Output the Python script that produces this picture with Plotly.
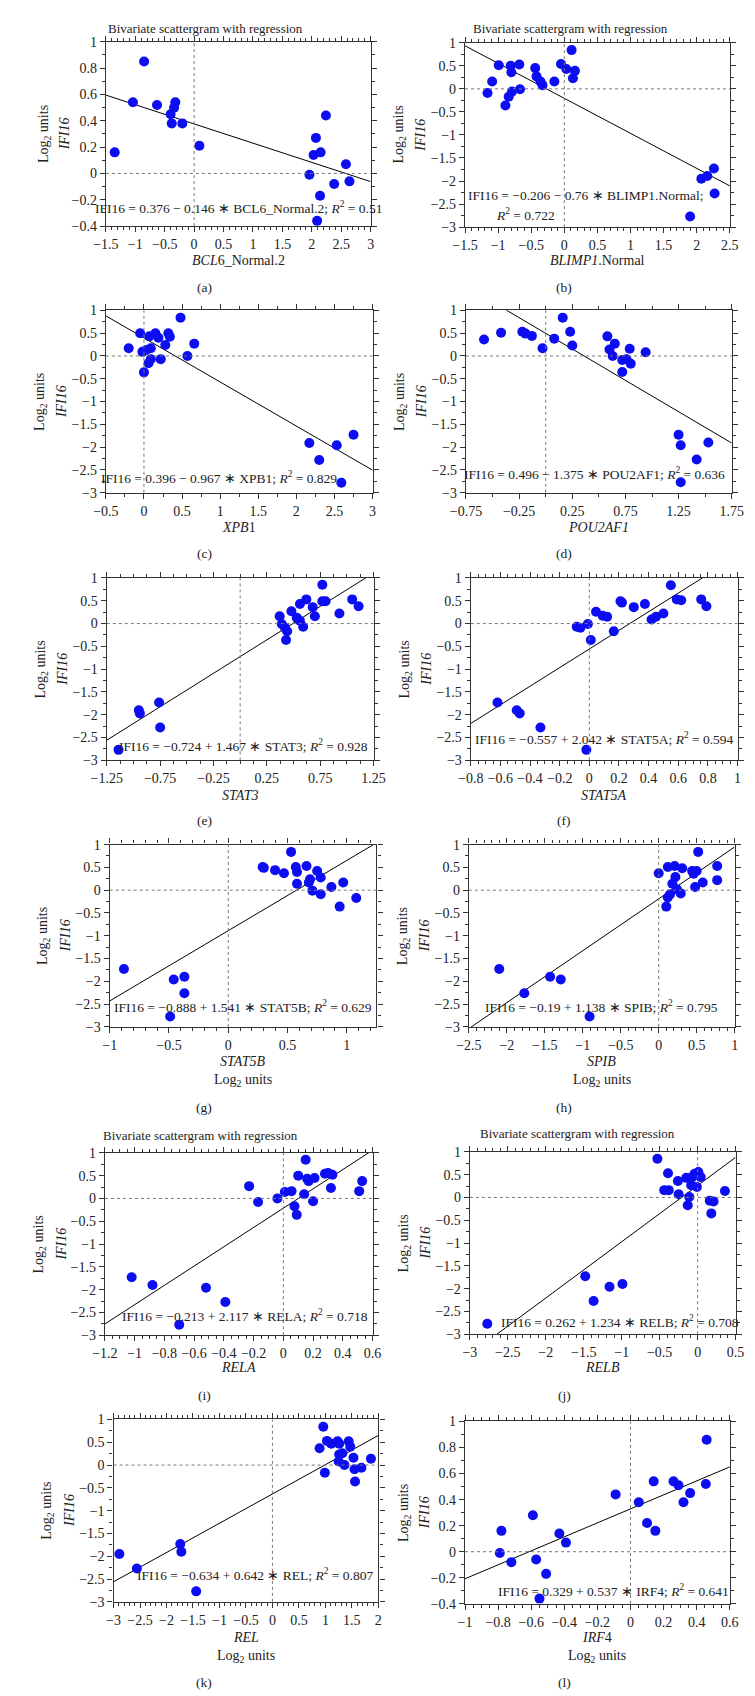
import plotly.graph_objects as go

W, H = 755, 1696
FONT = "Liberation Serif, Times New Roman, Times, serif"
BLUE = "#0d0df2"
AXC = "#333333"

# ---------------- data ----------------
a_x = [-1.35,-1.04,-0.85,-0.63,-0.40,-0.38,-0.34,-0.32,-0.20,0.09,1.96,2.03,2.07,2.15,2.24,2.09,2.14,2.38,2.58,2.64]
a_y = [0.16,0.54,0.85,0.52,0.45,0.38,0.50,0.54,0.38,0.21,-0.01,0.14,0.27,0.16,0.44,-0.36,-0.17,-0.08,0.07,-0.06]

b_x = [-1.16,-1.09,-0.99,-0.89,-0.84,-0.81,-0.80,-0.79,-0.68,-0.67,-0.44,-0.42,-0.36,-0.33,-0.15,-0.05,0.03,0.11,0.13,0.16,1.90,2.07,2.16,2.26,2.27]
b_y = [-0.09,0.16,0.51,-0.36,-0.17,0.50,0.36,-0.06,0.53,-0.01,0.45,0.27,0.16,0.08,0.16,0.54,0.43,0.84,0.23,0.39,-2.77,-1.95,-1.89,-1.73,-2.27]

c_x = [-0.05,0.07,0.15,0.19,0.32,0.34,0.48,0.66,-0.20,-0.02,0.03,0.09,0.28,0.57,0.06,0.09,0.22,0.0,2.17,2.30,2.53,2.75,2.59]
c_y = [0.50,0.43,0.50,0.40,0.50,0.42,0.84,0.27,0.17,0.09,0.13,0.17,0.24,0.0,-0.16,-0.07,-0.07,-0.36,-1.91,-2.28,-1.96,-1.73,-2.78]

d_x = [-0.58,-0.42,-0.22,-0.19,-0.13,-0.03,0.08,0.16,0.23,0.25,0.58,0.60,0.65,0.63,0.72,0.76,0.79,0.80,0.72,0.94,1.25,1.27,1.53,1.42,1.27]
d_y = [0.36,0.51,0.53,0.49,0.44,0.17,0.38,0.84,0.53,0.23,0.43,0.14,0.27,0.0,-0.09,-0.07,0.16,-0.17,-0.35,0.08,-1.73,-1.96,-1.90,-2.27,-2.77]

e_x = [0.37,0.48,0.56,0.62,0.68,0.70,0.77,0.77,0.80,0.93,1.05,1.11,0.39,0.42,0.44,0.43,0.53,0.56,0.59,-0.95,-0.94,-0.76,-0.75,-1.14]
e_y = [0.16,0.27,0.43,0.53,0.36,0.16,0.85,0.49,0.49,0.22,0.53,0.38,-0.01,-0.09,-0.17,-0.36,0.13,0.06,-0.07,-1.90,-1.97,-1.73,-2.28,-2.77]

f_x = [0.045,0.09,0.12,0.21,0.22,0.30,0.375,0.42,0.45,0.50,0.55,0.59,0.62,0.755,0.79,-0.085,-0.06,-0.01,0.01,0.165,-0.62,-0.49,-0.47,-0.33,-0.02]
f_y = [0.26,0.17,0.15,0.49,0.46,0.36,0.43,0.09,0.15,0.22,0.84,0.53,0.51,0.53,0.38,-0.07,-0.09,-0.01,-0.36,-0.17,-1.73,-1.90,-1.97,-2.28,-2.77]

g_x = [0.29,0.30,0.395,0.47,0.53,0.57,0.58,0.66,0.75,0.78,0.58,0.68,0.69,0.87,0.97,0.71,0.78,0.94,1.08,-0.88,-0.46,-0.37,-0.37,-0.49]
g_y = [0.51,0.49,0.44,0.37,0.84,0.51,0.40,0.53,0.42,0.28,0.14,0.17,0.24,0.07,0.17,-0.01,-0.09,-0.36,-0.17,-1.73,-1.96,-1.90,-2.26,-2.77]

h_x = [0.0,0.12,0.21,0.31,0.22,0.18,0.44,0.46,0.50,0.52,0.48,0.58,0.77,0.77,0.10,0.12,0.15,0.24,0.29,-2.10,-1.77,-1.43,-1.29,-0.91]
h_y = [0.37,0.51,0.53,0.48,0.29,0.14,0.42,0.36,0.42,0.84,0.07,0.17,0.53,0.22,-0.36,-0.16,-0.09,0.02,-0.07,-1.73,-2.26,-1.90,-1.96,-2.77]

i_x = [-0.23,-0.17,-0.04,0.01,0.055,0.075,0.09,0.14,0.10,0.16,0.17,0.21,0.20,0.28,0.30,0.33,0.32,0.51,0.53,0.15,-1.02,-0.88,-0.52,-0.39,-0.70]
i_y = [0.27,-0.08,0.0,0.14,0.16,-0.17,-0.36,0.09,0.50,0.43,0.38,0.45,-0.06,0.54,0.56,0.52,0.23,0.16,0.38,0.85,-1.73,-1.90,-1.96,-2.27,-2.77]

j_x = [-0.53,-0.39,-0.44,-0.38,-0.26,-0.25,-0.15,-0.11,-0.13,-0.085,-0.07,-0.04,-0.01,0.01,0.04,0.16,0.21,0.18,0.36,-1.48,-1.16,-0.99,-1.37,-2.77]
j_y = [0.85,0.53,0.16,0.16,0.36,0.07,0.43,0.01,-0.17,0.27,0.45,0.52,0.23,0.56,0.45,-0.07,-0.09,-0.35,0.14,-1.73,-1.96,-1.90,-2.27,-2.77]

k_x = [0.96,0.89,1.03,1.11,1.23,1.26,1.44,1.47,1.26,1.32,1.53,1.86,1.25,1.36,0.99,1.55,1.68,1.56,-2.89,-2.56,-1.74,-1.72,-1.44]
k_y = [0.84,0.37,0.53,0.47,0.52,0.47,0.52,0.40,0.23,0.26,0.16,0.14,0.08,0.0,-0.17,-0.09,-0.06,-0.36,-1.95,-2.27,-1.73,-1.90,-2.77]

l_x = [-0.79,-0.78,-0.72,-0.59,-0.57,-0.51,-0.43,-0.39,-0.55,-0.09,0.05,0.10,0.15,0.14,0.26,0.29,0.32,0.36,0.455,0.46]
l_y = [-0.01,0.16,-0.08,0.28,-0.06,-0.17,0.14,0.07,-0.36,0.44,0.38,0.22,0.16,0.54,0.54,0.51,0.38,0.45,0.52,0.86]

xs = [a_x, b_x, c_x, d_x, e_x, f_x, g_x, h_x, i_x, j_x, k_x, l_x]
ys = [a_y, b_y, c_y, d_y, e_y, f_y, g_y, h_y, i_y, j_y, k_y, l_y]

genes = ["BCL6_Normal.2", "BLIMP1.Normal", "XPB1", "POU2AF1", "STAT3", "STAT5A",
         "STAT5B", "SPIB", "RELA", "RELB", "REL", "IRF4"]
x_titles = ["<i>BCL</i>6_Normal.2", "<i>BLIMP1</i>.Normal", "<i>XPB</i>1", "<i>POU2AF1</i>",
            "<i>STAT3</i>", "<i>STAT5A</i>", "<i>STAT5B</i>", "<i>SPIB</i>", "<i>RELA</i>",
            "<i>RELB</i>", "<i>REL</i>", "<i>IRF</i>4"]
intercepts = [0.376, -0.206, 0.396, 0.496, -0.724, -0.557, -0.888, -0.19, -0.213, 0.262, -0.634, 0.329]
slopes = [-0.146, -0.76, -0.967, -1.375, 1.467, 2.042, 1.541, 1.138, 2.117, 1.234, 0.642, 0.537]
r2_vals = ["0.51", "0.722", "0.829", "0.636", "0.928", "0.594", "0.629", "0.795", "0.718", "0.708", "0.807", "0.641"]
panel_labels = ["(a)", "(b)", "(c)", "(d)", "(e)", "(f)", "(g)", "(h)", "(i)", "(j)", "(k)", "(l)"]

x_ranges = [[-1.5, 3], [-1.5, 2.5], [-0.5, 3], [-0.75, 1.75], [-1.25, 1.25], [-0.8, 1],
            [-1, 1.25], [-2.5, 1], [-1.2, 0.6], [-3, 0.5], [-3, 2], [-1, 0.6]]
x_tick0 = [0, 0, 0, -0.75, -1.25, 0, 0, 0, 0, 0, 0, 0]
x_dtick = [0.5, 0.5, 0.5, 0.5, 0.5, 0.2, 0.5, 0.5, 0.2, 0.5, 0.5, 0.2]
x_minor = [0.1, 0.1, 0.25, 0.25, 0.125, 0.05, 0.1, 0.1, 0.05, 0.1, 0.1, 0.05]
y_ranges = [[-0.4, 1], [-3, 1], [-3, 1], [-3, 1], [-3, 1], [-3, 1],
            [-3, 1], [-3, 1], [-3, 1], [-3, 1], [-3, 1], [-0.4, 1]]
y_dtick = [0.2, 0.5, 0.5, 0.5, 0.5, 0.5, 0.5, 0.5, 0.5, 0.5, 0.5, 0.2]
y_minor = [0.1, 0.25, 0.25, 0.25, 0.25, 0.25, 0.25, 0.25, 0.25, 0.25, 0.25, 0.1]

# ---------------- layout (pixel positions) ----------------
boxes = [(85, 360, 27, 213), (458, 733, 28, 214),
         (85, 362, 298, 482), (459, 735, 298, 482),
         (86, 363, 568, 752), (464, 741, 568, 752),
         (89, 366, 837, 1021), (462, 738, 837, 1021),
         (84, 362, 1148, 1332), (463, 739, 1147, 1331),
         (93, 368, 1417, 1601), (458, 733, 1419, 1603)]
xtitle_y = [248, 248, 517, 517, 787, 787, 1056, 1056, 1365, 1365, 1637, 1637]
label_y = [275, 275, 543, 543, 813, 813, 1102, 1102, 1393, 1393, 1682, 1682]
col_center = [187, 561]
eq_pos = [(0.76, -0.256), (0.32, -2.32), (0.98, -2.67), (0.46, -2.58), (0.03, -2.67), (0.10, -2.51),
          (0.125, -2.55), (-0.75, -2.55), (-0.26, -2.56), (-1.02, -2.73), (-0.33, -2.40), (-0.10, -0.30)]
titled = {0: (85, 14), 1: (464, 14), 8: (80, 1130), 9: (472, 1128)}
log_under = {6, 7, 10, 11}

def px(x):
    return x / W

def py(y):
    return 1 - y / H

def fnt(size):
    return dict(family=FONT, size=size, color="#222")

fig = go.Figure()
annotations = []
shapes = []
layout = dict(width=W, height=H, margin=dict(l=0, r=0, t=0, b=0), autosize=False,
              paper_bgcolor="white", plot_bgcolor="white", showlegend=False,
              font=fnt(13))

for i in range(12):
    n = i + 1
    xr = "x" if n == 1 else f"x{n}"
    yr = "y" if n == 1 else f"y{n}"
    xa = "xaxis" if n == 1 else f"xaxis{n}"
    ya = "yaxis" if n == 1 else f"yaxis{n}"
    l, r, t, b = boxes[i]
    x0, x1 = x_ranges[i]
    fig.add_trace(go.Scatter(x=[x0, x1], y=[intercepts[i] + slopes[i] * x0, intercepts[i] + slopes[i] * x1],
                             mode="lines", line=dict(color="black", width=1), xaxis=xr, yaxis=yr,
                             hoverinfo="skip"))
    fig.add_trace(go.Scatter(x=xs[i], y=ys[i], mode="markers", xaxis=xr, yaxis=yr,
                             marker=dict(size=10, color=BLUE, line=dict(width=0))))
    common = dict(showline=True, linecolor=AXC, linewidth=1.3, mirror="ticks", ticks="outside",
                  ticklen=5, tickwidth=1, tickcolor=AXC, showgrid=False, zeroline=False,
                  tickfont=fnt(14))
    layout[xa] = dict(domain=[px(l), px(r)], anchor=yr, range=[x0, x1], tick0=x_tick0[i], dtick=x_dtick[i],
                      minor=dict(dtick=x_minor[i], tick0=x_tick0[i], ticks="outside", ticklen=3, tickcolor=AXC),
                      **common)
    layout[ya] = dict(domain=[py(b), py(t)], anchor=xr, range=y_ranges[i], dtick=y_dtick[i], tick0=0,
                      minor=dict(dtick=y_minor[i], ticks="outside", ticklen=3, tickcolor=AXC),
                      **common)
    # dotted zero lines
    shapes.append(dict(type="line", xref=xr, yref=f"{yr} domain", x0=0, x1=0, y0=0, y1=1,
                       line=dict(color="#777", width=1, dash="dot")))
    shapes.append(dict(type="line", xref=f"{xr} domain", yref=yr, x0=0, x1=1, y0=0, y1=0,
                       line=dict(color="#777", width=1, dash="dot")))
    # equation
    sign = "+" if slopes[i] >= 0 else "−"
    ic = f"{intercepts[i]:g}".replace("-", "−")
    eq = f"IFI16 = {ic} {sign} {abs(slopes[i]):g} ∗ {genes[i]};"
    r2 = f"<i>R</i><sup>2</sup> = {r2_vals[i]}"
    ex, ey = eq_pos[i]
    if i == 1:
        annotations.append(dict(text=eq, x=ex, y=ey, xref=xr, yref=yr, showarrow=False,
                                font=fnt(13.5), xanchor="center", yanchor="middle"))
        annotations.append(dict(text=r2, x=-0.59, y=-2.73, xref=xr, yref=yr, showarrow=False,
                                font=fnt(13.5), xanchor="center", yanchor="middle"))
    else:
        annotations.append(dict(text=eq + " " + r2, x=ex, y=ey, xref=xr, yref=yr, showarrow=False,
                                font=fnt(13.5), xanchor="center", yanchor="middle"))
    # x title
    cx = (l + r) / 2
    annotations.append(dict(text=x_titles[i], x=px(cx), y=py(xtitle_y[i]), xref="paper", yref="paper",
                            showarrow=False, font=fnt(14), xanchor="center", yanchor="middle"))
    if i in log_under:
        annotations.append(dict(text="Log<sub>2</sub> units", x=px(cx), y=py(xtitle_y[i] + 19),
                                xref="paper", yref="paper", showarrow=False, font=fnt(14),
                                xanchor="center", yanchor="middle"))
    # y titles
    off1, off2 = (63, 42) if y_ranges[i][0] > -1 else (68, 46)
    cy = (t + b) / 2
    annotations.append(dict(text="Log<sub>2</sub> units", x=px(l - off1), y=py(cy), xref="paper", yref="paper",
                            showarrow=False, textangle=-90, font=fnt(14),
                            xanchor="center", yanchor="middle"))
    annotations.append(dict(text="<i>IFI16</i>", x=px(l - off2), y=py(cy), xref="paper", yref="paper",
                            showarrow=False, textangle=-90, font=fnt(14),
                            xanchor="center", yanchor="middle"))
    # panel label
    annotations.append(dict(text=panel_labels[i], x=px(col_center[i % 2]), y=py(label_y[i]), xref="paper",
                            yref="paper", showarrow=False, font=fnt(13.5), xanchor="center",
                            yanchor="middle"))
    if i in titled:
        tx, ty = titled[i]
        annotations.append(dict(text="Bivariate scattergram with regression", x=px(tx), y=py(ty),
                                xref="paper", yref="paper", showarrow=False, font=fnt(13),
                                xanchor="left", yanchor="middle"))

layout["annotations"] = annotations
layout["shapes"] = shapes
fig.update_layout(**layout)
fig.write_html("out.html")
